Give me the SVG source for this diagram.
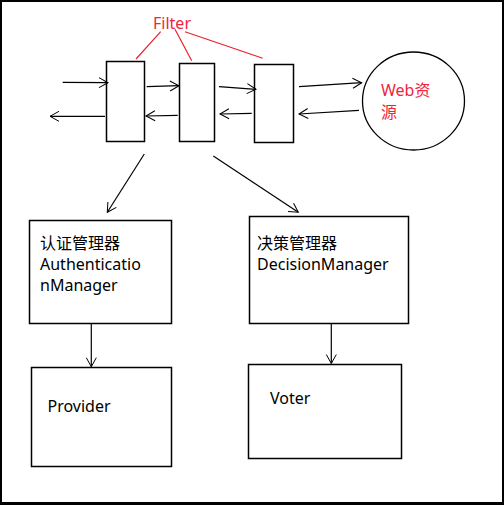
<svg xmlns="http://www.w3.org/2000/svg" width="504" height="505" viewBox="0 0 504 505">
<defs>
<marker id="ah" markerUnits="userSpaceOnUse" markerWidth="14" markerHeight="14" refX="10" refY="6" orient="auto" viewBox="0 0 14 12">
<polyline points="1,1 10,6 1,11" fill="none" stroke="#000" stroke-width="1"/>
</marker>
<style>
.box{fill:#fff;stroke:#000;stroke-width:1.5}
.ln{stroke:#000;stroke-width:1.2;fill:none;marker-end:url(#ah)}
.red{stroke:#e8222e;stroke-width:1.2;fill:none}
.t{font-family:"Noto Sans","Noto Sans CJK SC",sans-serif;font-size:16px;fill:#000}
.rt{font-family:"Noto Sans","Noto Sans CJK SC",sans-serif;font-size:16px;fill:#f0243c}
</style>
</defs>
<rect x="0" y="0" width="504" height="505" fill="#000"/>
<rect x="2" y="2" width="500" height="500" fill="#fff"/>

<g id="filter-label">
<text class="rt" x="172" y="29" text-anchor="middle">Filter</text>
<line class="red" x1="160.7" y1="31.7" x2="136" y2="59"/>
<line class="red" x1="175" y1="29.3" x2="191.7" y2="60.7"/>
<line class="red" x1="185" y1="31.7" x2="262.7" y2="58.3"/>
</g>

<g id="filter1"><rect class="box" x="106.5" y="61.5" width="38" height="80"/></g>
<g id="filter2"><rect class="box" x="179.5" y="63.5" width="35" height="78"/></g>
<g id="filter3"><rect class="box" x="254.5" y="64.5" width="39" height="78"/></g>

<g id="web">
<ellipse cx="413.5" cy="101" rx="51" ry="49" fill="#fff" stroke="#000" stroke-width="1.3"/>
<text class="rt" x="381" y="96">Web资</text>
<text class="rt" x="381" y="118">源</text>
</g>

<g id="auth-manager">
<rect class="box" x="29.5" y="220.5" width="142" height="103"/>
<text class="t" x="40" y="249">认证管理器</text>
<text class="t" x="40" y="270">Authenticatio</text>
<text class="t" x="40" y="291">nManager</text>
</g>

<g id="decision-manager">
<rect class="box" x="249.5" y="216.5" width="159" height="107"/>
<text class="t" x="257" y="249">决策管理器</text>
<text class="t" x="257" y="270">DecisionManager</text>
</g>

<g id="provider">
<rect class="box" x="31.5" y="367.5" width="140" height="99"/>
<text class="t" x="47.5" y="412">Provider</text>
</g>

<g id="voter">
<rect class="box" x="248.5" y="364.5" width="153" height="94"/>
<text class="t" x="270" y="404">Voter</text>
</g>

<g id="connectors">
<line class="ln" x1="62.7" y1="82.3" x2="108" y2="82.7"/>
<line class="ln" x1="105" y1="116.3" x2="50" y2="116.3"/>
<line class="ln" x1="146.7" y1="86.7" x2="179" y2="85.7"/>
<line class="ln" x1="177.7" y1="115.3" x2="146" y2="116"/>
<line class="ln" x1="219" y1="86.7" x2="256" y2="89.3"/>
<line class="ln" x1="251.7" y1="113.3" x2="220" y2="114"/>
<line class="ln" x1="299" y1="86.7" x2="361.7" y2="82.7"/>
<line class="ln" x1="359" y1="110.3" x2="299" y2="114"/>
<line class="ln" x1="144.3" y1="154" x2="107.3" y2="212.3"/>
<line class="ln" x1="213.3" y1="156" x2="298.3" y2="212.3"/>
<line class="ln" x1="91.3" y1="323.5" x2="91.3" y2="366.7"/>
<line class="ln" x1="331.3" y1="323.5" x2="331.3" y2="363.5"/>
</g>
</svg>
